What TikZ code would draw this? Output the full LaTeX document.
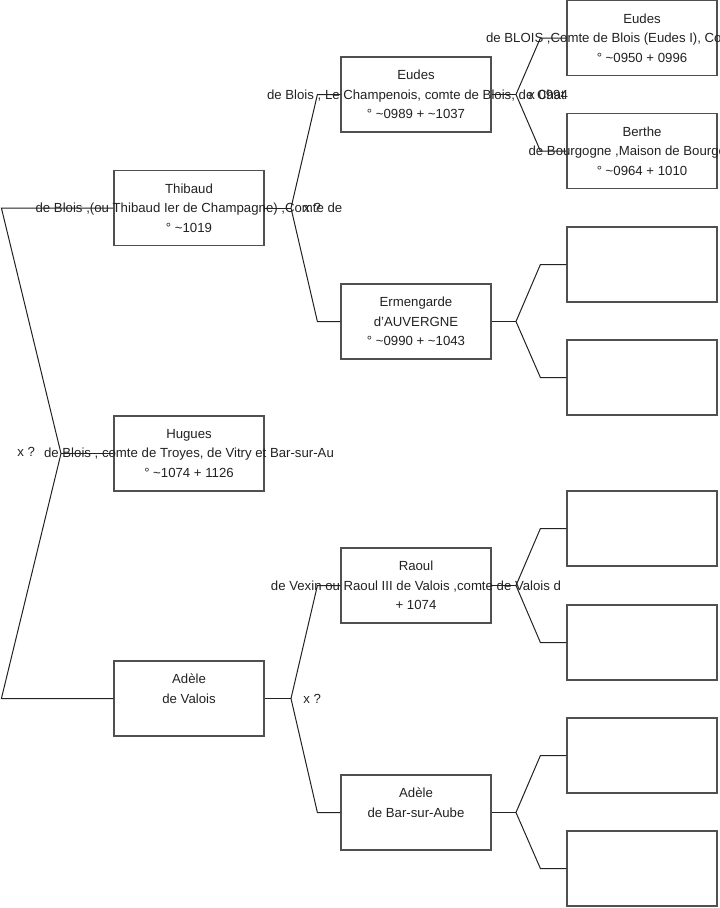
\documentclass[tikz,border=0pt]{standalone}
\usepackage{fontspec}
\setmainfont{Liberation Sans}
\usepackage{tikz}
\usetikzlibrary{positioning, calc}
\definecolor{ink}{HTML}{222222}
\definecolor{frame}{HTML}{505050}

\begin{document}
\begin{tikzpicture}[x=0.75pt, y=-0.75pt,
    font=\fontsize{9.9}{14.6}\selectfont,
    person/.style={rectangle, draw=frame, line width=0.9pt, fill=white,
                   minimum width=112.5pt, minimum height=56.25pt, inner sep=0pt},
    info/.style={align=center, inner sep=0pt, text=ink},
    link/.style={draw=ink, line width=0.75pt},
    wed/.style={anchor=west, inner sep=0pt, text=ink}]
  \useasboundingbox (0,0) rectangle (719,908);
  \clip (0,0) rectangle (719,908);

  % boxes
  \node[person] (thibaud) at (189,208) {};
  \node[person] (hugues) at (189,453.5) {};
  \node[person] (adeleV) at (189,698.5) {};
  \node[person] (eudesA) at (416,94.5) {};
  \node[person] (ermengarde) at (416,321.5) {};
  \node[person] (raoul) at (416,585.5) {};
  \node[person] (adeleB) at (416,812.5) {};
  \node[person] (eudesB) at (642,38) {};
  \node[person] (berthe) at (642,151) {};
  \node[person] (p3) at (642,264.5) {};
  \node[person] (p4) at (642,377.5) {};
  \node[person] (p5) at (642,528.5) {};
  \node[person] (p6) at (642,642.5) {};
  \node[person] (p7) at (642,755.5) {};
  \node[person] (p8) at (642,868.5) {};

  % forks
  \coordinate (r0) at (61,453.5);
  \draw[link] (hugues.west) -- (r0);
  \draw[link] (thibaud.west) -- ++(-112,0) -- (r0);
  \draw[link] (adeleV.west) -- ++(-112,0) -- (r0);

  \coordinate (v1) at (291,208);
  \draw[link] (thibaud.east) -- (v1);
  \draw[link] (eudesA.west) -- ++(-23,0) -- (v1);
  \draw[link] (ermengarde.west) -- ++(-23,0) -- (v1);

  \coordinate (v2) at (291,698.5);
  \draw[link] (adeleV.east) -- (v2);
  \draw[link] (raoul.west) -- ++(-23,0) -- (v2);
  \draw[link] (adeleB.west) -- ++(-23,0) -- (v2);

  \coordinate (w1) at (516,94.5);
  \draw[link] (eudesA.east) -- (w1);
  \draw[link] (eudesB.west) -- ++(-26,0) -- (w1);
  \draw[link] (berthe.west) -- ++(-26,0) -- (w1);

  \coordinate (w2) at (516,321.5);
  \draw[link] (ermengarde.east) -- (w2);
  \draw[link] (p3.west) -- ++(-26,0) -- (w2);
  \draw[link] (p4.west) -- ++(-26,0) -- (w2);

  \coordinate (w3) at (516,585.5);
  \draw[link] (raoul.east) -- (w3);
  \draw[link] (p5.west) -- ++(-26,0) -- (w3);
  \draw[link] (p6.west) -- ++(-26,0) -- (w3);

  \coordinate (w4) at (516,812.5);
  \draw[link] (adeleB.east) -- (w4);
  \draw[link] (p7.west) -- ++(-26,0) -- (w4);
  \draw[link] (p8.west) -- ++(-26,0) -- (w4);

  % texts
  \node[info] (thibaud-t) at (thibaud) {Thibaud\\de Blois ,(ou Thibaud Ier de Champagne) ,Comte de\\° \textasciitilde1019};
  \node[info] (hugues-t) at (hugues) {Hugues\\de Blois , comte de Troyes, de Vitry et Bar-sur-Au\\° \textasciitilde1074 + 1126};
  \node[info] (adeleV-t) at (adeleV) {Adèle\\de Valois\\~};
  \node[info] (eudesA-t) at (eudesA) {Eudes\\de Blois , Le Champenois, comte de Blois, de Chat\\° \textasciitilde0989 + \textasciitilde1037};
  \node[info] (ermengarde-t) at (ermengarde) {Ermengarde\\d'AUVERGNE\\° \textasciitilde0990 + \textasciitilde1043};
  \node[info] (raoul-t) at (raoul) {Raoul\\de Vexin ou Raoul III de Valois ,comte de Valois d\\+ 1074};
  \node[info] (adeleB-t) at (adeleB) {Adèle\\de Bar-sur-Aube\\~};
  \node[info] (eudesB-t) at (eudesB) {Eudes\\de BLOIS ,Comte de Blois (Eudes I), Comte de Chart\\° \textasciitilde0950 + 0996};
  \node[info] (berthe-t) at (berthe) {Berthe\\de Bourgogne ,Maison de Bourgogne I\\° \textasciitilde0964 + 1010};

  \node[wed] (x0) at (17,452) {x ?};
  \node[wed] (x1) at (303,208) {x ?};
  \node[wed] (x2) at (303,698.5) {x ?};
  \node[wed] (x3) at (528,94.5) {x 0994};
\end{tikzpicture}
\end{document}
